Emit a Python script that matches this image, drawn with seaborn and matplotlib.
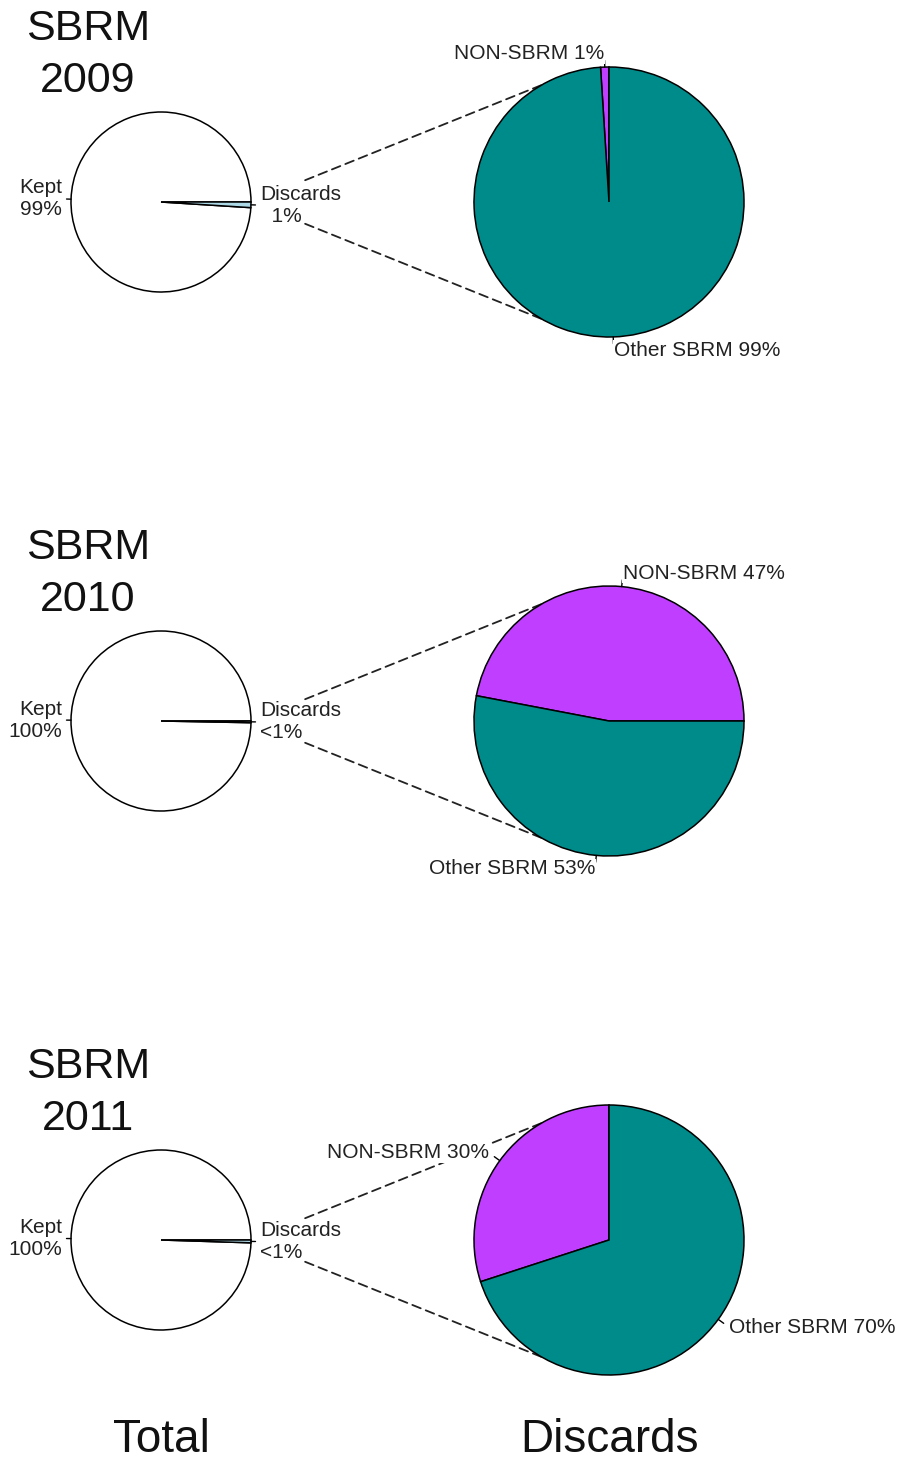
import matplotlib
matplotlib.use('Agg')
import matplotlib.pyplot as plt
import seaborn as sns
import numpy as np
from matplotlib.patches import ConnectionPatch

# data
years = ['2009', '2010', '2011']
total_names = ['Kept', 'Discards']
total_vals = [[99, 1], [99.7, 0.3], [99.5, 0.5]]
total_pct_text = [['99%', '  1%'], ['100%', '<1%'], ['100%', '<1%']]
disc_names = ['NON-SBRM', 'Other SBRM']
disc_vals = [[1, 99], [47, 53], [30, 70]]
disc_start = [90, 0, 90]

sns.set_style('white')
plt.rcParams['font.family'] = ['Liberation Sans', 'DejaVu Sans']

W, H = 899, 1462
fig = plt.figure(figsize=(W / 100, H / 100), dpi=100)

total_colors = ['white', '#ADD8E6']
disc_colors = ['#BF3EFF', '#008B8B']

row_cy = [202, 721, 1240]
left_cx, left_r = 161, 90
right_cx, right_r = 609, 135


def pie_axes(cx, cy, r):
    s = 3 * r
    ax = fig.add_axes([(cx - s / 2) / W, (H - cy - s / 2) / H, s / W, s / H])
    return ax


def draw_pie(ax, vals, labels, colors, start):
    wedges, texts = ax.pie(vals, labels=labels, colors=colors, startangle=start,
                           counterclock=True, labeldistance=1.1,
                           wedgeprops=dict(edgecolor='black', linewidth=1.1),
                           textprops=dict(fontsize=15, color='#222222'))
    for w in wedges:
        a = np.deg2rad((w.theta1 + w.theta2) / 2)
        ax.plot([np.cos(a), 1.05 * np.cos(a)], [np.sin(a), 1.05 * np.sin(a)],
                color='black', lw=1)
    ax.set_xlim(-1.5, 1.5)
    ax.set_ylim(-1.5, 1.5)
    ax.set_aspect('equal')
    return texts


for i, yr in enumerate(years):
    cy = row_cy[i]
    axl = pie_axes(left_cx, cy, left_r)
    lab_l = [f'{n}\n{p}' for n, p in zip(total_names, total_pct_text[i])]
    draw_pie(axl, total_vals[i], lab_l, total_colors, 0)

    axr = pie_axes(right_cx, cy, right_r)
    lab_r = [f'{n} {v}%' for n, v in zip(disc_names, disc_vals[i])]
    texts = draw_pie(axr, disc_vals[i], lab_r, disc_colors, disc_start[i])
    for t in texts:
        t.set_bbox(dict(facecolor='white', edgecolor='none', pad=0.5))
        t.set_zorder(5)

    # dashed connectors from the discards slice to the breakdown pie
    for ang in (120, 240):
        a = np.deg2rad(ang)
        con = ConnectionPatch(xyA=(1, 0), coordsA=axl.transData,
                              xyB=(np.cos(a), np.sin(a)), coordsB=axr.transData,
                              linestyle=(0, (5, 3)), color='#222222', lw=1.3,
                              shrinkA=42, shrinkB=0, zorder=0.5)
        axr.add_artist(con)
        con.set_clip_on(False)

    fig.text(88 / W, 1 - (cy - 147) / H, f'SBRM\n{yr}', ha='center', va='center',
             fontsize=31, linespacing=1.36, color='#111111')

fig.text(left_cx / W, 1 - 1440 / H, 'Total', ha='center', va='center',
         fontsize=33, color='#111111')
fig.text(right_cx / W, 1 - 1440 / H, 'Discards', ha='center', va='center',
         fontsize=33, color='#111111')

fig.savefig('out.png', dpi=100, facecolor='white')
